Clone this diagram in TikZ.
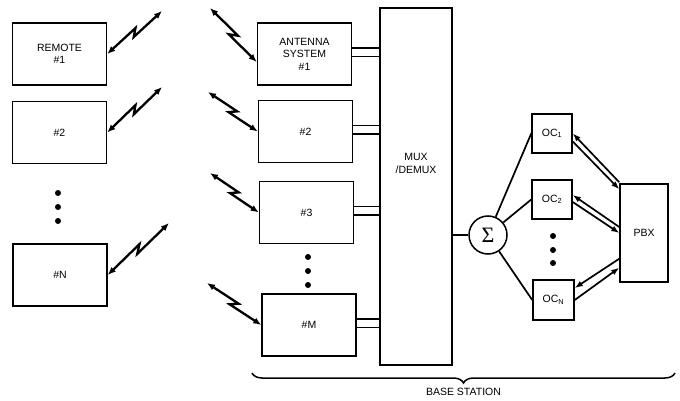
\documentclass[tikz,border=0pt]{standalone}
\usepackage{fontspec}
\setmainfont{Liberation Sans}
\newfontfamily\sigmafont{Liberation Serif}
\usetikzlibrary{arrows.meta,positioning,calc,decorations.pathreplacing}

\newcommand{\labelfont}{\fontsize{10.5}{12.5}\selectfont}
% radio link: a zig-zag double arrow from a box side to a free end
\newcommand{\radiolink}[2]{%
  \draw[bolt] (#1) -- ($(#1)!0.55!(#2)!3pt!90:(#2)$)
    -- ($(#1)!0.45!(#2)!3pt!-90:(#2)$) -- (#2);}

\tikzset{
  unit/.style={draw,line width=1.5pt,minimum width=94pt,minimum height=62pt,
               inner sep=0pt,align=center,font=\labelfont},
  ocbox/.style={draw,line width=1.5pt,minimum width=40pt,minimum height=39pt,
                inner sep=0pt,font=\labelfont},
  link/.style={line width=1.7pt},
  bolt/.style={line width=2.3pt,{Latex[length=8pt,width=6.5pt]}-{Latex[length=8pt,width=6.5pt]}},
  flow/.style={line width=1.7pt,-{Latex[length=8pt,width=6pt]}},
  vdot/.style={circle,fill,inner sep=0pt,minimum size=6pt},
}

\begin{document}
\begin{tikzpicture}[x=1pt,y=-1pt]
  \useasboundingbox (0,0) rectangle (680,401);

  % Remote units
  \node[unit] (remote1) at (59.5,54)  {REMOTE\\\#1};
  \node[unit] (remote2) at (59.5,132.5) {\#2};
  \node[unit] (remoteN) at (60,275)   {\#N};
  \foreach \y in {193,207,221} \node[vdot] at (58,\y) {};

  % Free ends of the radio links
  \coordinate (r1) at (162,11);
  \coordinate (r2) at (162,87);
  \coordinate (rN) at (169,223);
  \coordinate (a1) at (210,8);
  \coordinate (a2) at (208,92);
  \coordinate (a3) at (210,173);
  \coordinate (aM) at (207,283);

  % Antenna systems of the base station
  \node[unit] (ant1) at (304.5,54)  {ANTENNA\\SYSTEM\\\#1};
  \node[unit] (ant2) at (305.5,131.5) {\#2};
  \node[unit] (ant3) at (306.5,212.5) {\#3};
  \node[unit] (antM) at (309,325)   {\#M};
  \foreach \y in {257,271,285} \node[vdot] at (308,\y) {};

  \radiolink{remote1.east}{r1}
  \radiolink{remote2.east}{r2}
  \radiolink{remoteN.east}{rN}
  \radiolink{[yshift=-8pt]ant1.west}{a1}
  \radiolink{ant2.west}{a2}
  \radiolink{ant3.west}{a3}
  \radiolink{antM.west}{aM}

  % Multiplexer
  \node[draw,line width=1.5pt,minimum width=72pt,minimum height=357pt,inner sep=0pt]
    (mux) at (416,186.5) {};
  \node[font=\labelfont,align=center] at ([yshift=23pt]mux.center) {MUX\\/DEMUX};
  \foreach \a in {ant1,ant2,ant3,antM}
    \foreach \s in {6pt,-2.5pt}
      \draw[link] ([yshift=\s]\a.east) -- ([yshift=\s]\a.east -| mux.west);

  % Summer and channel units
  \node[draw,circle,line width=1.5pt,minimum size=38pt,inner sep=0pt,
        font=\sigmafont\fontsize{22}{24}\selectfont] (sum) at (488,235) {Σ};
  \draw[link] (sum.west -| mux.east) -- (sum.west);

  \node[ocbox] (oc1) at (552,133.5) {OC\textsubscript{1}};
  \node[ocbox] (oc2) at (552,199.5) {OC\textsubscript{2}};
  \node[ocbox,minimum width=41pt,minimum height=40pt] (ocN) at (553.5,300) {OC\textsubscript{N}};
  \foreach \y in {236,250,263} \node[vdot] at (553,\y) {};

  \node[draw,line width=1.5pt,minimum width=48pt,minimum height=98pt,inner sep=0pt,
        font=\labelfont] (pbx) at (644,233) {PBX};

  \draw[link] (sum) -- (oc1.west);
  \draw[link] (sum) -- (oc2.west);
  \draw[link] (sum) -- (ocN.west);

  % Two-way trunks to the PBX
  \draw[flow] ([yshift=1pt]pbx.north west) -- (oc1.east);
  \draw[flow] ([yshift=-8pt]oc1.east) -- ([yshift=-6pt]pbx.north west);
  \draw[flow] ([yshift=6pt]pbx.west) -- ([yshift=4.5pt]oc2.east);
  \draw[flow] ([yshift=-2.5pt]oc2.east) -- (pbx.west);
  \draw[flow] ([yshift=24pt]pbx.south west) -- ([yshift=12pt]ocN.east);
  \draw[flow] (ocN.east) -- ([yshift=15pt]pbx.south west);

  % Base station brace
  \coordinate (bsL) at (252,373);
  \coordinate (bsR) at (675,373);
  \draw[line width=1.5pt,decorate,decoration={brace,mirror,amplitude=10pt}] (bsL) -- (bsR)
    node[midway,below=11pt,font=\labelfont] (bs) {BASE STATION};
\end{tikzpicture}
\end{document}
